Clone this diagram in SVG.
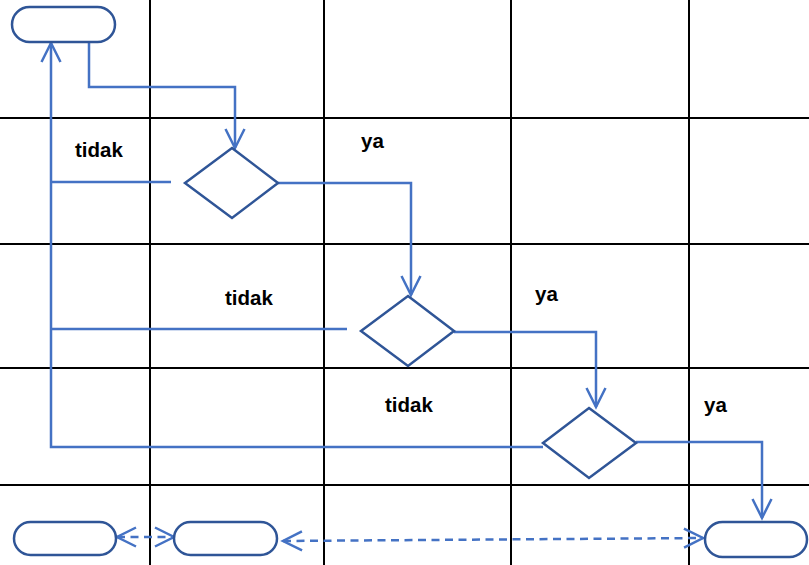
<svg xmlns="http://www.w3.org/2000/svg" width="809" height="565" viewBox="0 0 809 565">
  <style>
    .grid { stroke: #000; stroke-width: 2; fill: none; }
    .shape { stroke: #2F5597; stroke-width: 2.5; fill: #fff; }
    .conn { stroke: #4472C4; stroke-width: 2.5; fill: none; }
    .dash { stroke-dasharray: 8 5.5; }
    .label { font-family: "Liberation Sans", Arial, sans-serif; font-weight: bold; font-size: 20.5px; fill: #000; }
  </style>
  <defs>
    <marker id="arrow" markerUnits="userSpaceOnUse" viewBox="-22 -12 26 24" refX="0" refY="0" markerWidth="26" markerHeight="24" orient="auto-start-reverse" overflow="visible">
      <path d="M -19 -9.5 L 0 0 L -19 9.5" fill="none" stroke="#4472C4" stroke-width="2.5"/>
    </marker>
  </defs>
  <rect width="809" height="565" fill="#fff"/>

  <!-- swimlane grid -->
  <g id="grid" class="grid">
    <line x1="150" y1="0" x2="150" y2="565"/>
    <line x1="324" y1="0" x2="324" y2="565"/>
    <line x1="511" y1="0" x2="511" y2="565"/>
    <line x1="689" y1="0" x2="689" y2="565"/>
    <line x1="0" y1="118" x2="809" y2="118"/>
    <line x1="0" y1="244" x2="809" y2="244"/>
    <line x1="0" y1="368" x2="809" y2="368"/>
    <line x1="0" y1="485" x2="809" y2="485"/>
  </g>

  <!-- connectors -->
  <g id="connectors" class="conn">
    <polyline points="89,43 89,87 235,87 235,148" marker-end="url(#arrow)"/>
    <polyline points="278,183 411,183 411,295" marker-end="url(#arrow)"/>
    <polyline points="454,332 596,332 596,407" marker-end="url(#arrow)"/>
    <polyline points="636,442 762,442 762,518" marker-end="url(#arrow)"/>
    <line x1="171" y1="182" x2="51" y2="182"/>
    <line x1="347" y1="329" x2="51" y2="329"/>
    <polyline points="543,447 51,447 51,43" marker-end="url(#arrow)"/>
    <line class="dash" x1="117" y1="537" x2="174" y2="537" marker-start="url(#arrow)" marker-end="url(#arrow)"/>
    <line class="dash" x1="283" y1="541" x2="703" y2="538" marker-start="url(#arrow)" marker-end="url(#arrow)"/>
  </g>

  <!-- nodes -->
  <g id="start">
    <rect class="shape" x="12" y="7" width="103" height="35" rx="17.5"/>
  </g>
  <g id="decision1">
    <polygon class="shape" points="232,148 278,183 232,218 185,183"/>
  </g>
  <g id="decision2">
    <polygon class="shape" points="408,296 454,331 408,366 361,331"/>
  </g>
  <g id="decision3">
    <polygon class="shape" points="589,408 636,443 589,478 543,443"/>
  </g>
  <g id="end1">
    <rect class="shape" x="14" y="522" width="102" height="33" rx="16.5"/>
  </g>
  <g id="end2">
    <rect class="shape" x="174" y="522" width="103" height="33" rx="16.5"/>
  </g>
  <g id="end3">
    <rect class="shape" x="705" y="522" width="102" height="35" rx="17.5"/>
  </g>

  <!-- branch labels -->
  <g id="labels" class="label">
    <text x="75" y="157">tidak</text>
    <text x="361" y="148">ya</text>
    <text x="225" y="305">tidak</text>
    <text x="535" y="301">ya</text>
    <text x="385" y="412">tidak</text>
    <text x="704" y="412">ya</text>
  </g>
</svg>
